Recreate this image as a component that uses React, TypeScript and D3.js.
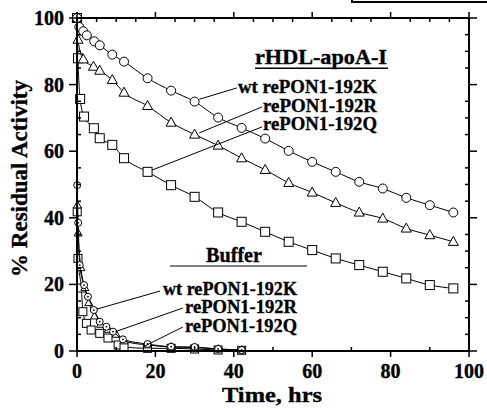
import React from "react";
import * as d3 from "d3";

// ---------- DATA ----------
// rHDL-apoA-I
const rhdlK_t = [0, 0.6, 1.6, 2.5, 4.4, 5.8, 9, 12, 18, 24, 30, 36, 42, 48, 54, 60, 66, 72, 78, 84, 90, 96];
const rhdlK_v = [100, 97.3, 96.0, 94.8, 93.0, 91.8, 89.0, 86.9, 81.9, 78.2, 74.9, 70.1, 67.0, 63.8, 60.1, 56.8, 53.8, 50.8, 48.8, 46.0, 43.8, 41.6];
const rhdlR_t = [0, 0.25, 1.6, 4.2, 5.8, 9, 12, 18, 24, 30, 36, 42, 48, 54, 60, 66, 72, 78, 84, 90, 96];
const rhdlR_v = [100, 93.5, 87.6, 85.4, 84.2, 81.4, 77.6, 73.6, 68.6, 65.0, 61.7, 57.9, 54.4, 50.5, 47.6, 44.5, 41.6, 39.8, 36.8, 34.8, 32.8];
const rhdlQ_t = [0, 0.25, 0.8, 1.8, 4.3, 5.8, 9, 12, 18, 24, 30, 36, 42, 48, 54, 60, 66, 72, 78, 84, 90, 96];
const rhdlQ_v = [100, 87.9, 75.7, 70.4, 66.9, 63.9, 61.9, 57.9, 53.8, 49.8, 46.3, 41.6, 38.8, 35.8, 32.8, 30.3, 27.8, 25.8, 23.8, 21.8, 19.8, 18.8];
// Buffer
const bufK_t = [0, 0.05, 0.3, 0.7, 1.8, 2.8, 4.3, 5.8, 7.5, 9.2, 11.7, 18, 24, 30, 36, 42];
const bufK_v = [100, 49.8, 38.5, 25.8, 19.8, 16.3, 12.3, 8.8, 7.3, 5.8, 3.5, 2.1, 1.3, 1.2, 0.6, 0.3];
const bufR_t = [0, 0.1, 0.3, 1, 2, 3, 4.5, 6, 8, 10, 12, 18, 24, 30, 36, 42];
const bufR_v = [100, 43.8, 35.4, 25, 19, 14.5, 10.5, 8, 6.5, 5, 3, 1.8, 1.2, 1, 0.6, 0.3];
const bufQ_t = [0, 0.05, 0.25, 1.1, 1.5, 2.4, 3.6, 5.8, 7.9, 10.5, 12, 18, 24, 30, 36, 42];
const bufQ_v = [100, 41.8, 27.8, 18.9, 11.8, 8.3, 6.3, 5.3, 3.9, 1.8, 1.2, 0.8, 0.8, 0.6, 0.3, 0.2];

const xTicks = [0, 20, 40, 60, 80, 100];
const yTicks = [0, 20, 40, 60, 80, 100];
const xLabel = "Time, hrs";
const yLabel = "% Residual Activity";
const rhdlTitle = "rHDL-apoA-I";
const bufTitle = "Buffer";
const seriesNames = ["wt rePON1-192K", "rePON1-192R", "rePON1-192Q"];

// ---------- LAYOUT ----------
const W = 487, H = 408;
const x = d3.scaleLinear().domain([0, 100]).range([77, 469]);
const y = d3.scaleLinear().domain([0, 100]).range([351, 18]);
const FONT = "'Liberation Serif', 'Times New Roman', serif";

type Pt = [number, number];
const zip = (t: number[], v: number[]): Pt[] => t.map((d, i) => [d, v[i]]);

const line = d3
  .line<Pt>()
  .x((d) => x(d[0]))
  .y((d) => y(d[1]))
  .curve(d3.curveMonotoneX);

function Marker({ kind, cx, cy, s, dot }: { kind: string; cx: number; cy: number; s: number; dot?: boolean }) {
  const common = { fill: "#fff", stroke: "#000", strokeWidth: 1 };
  if (kind === "circle")
    return (
      <g>
        <circle cx={cx} cy={cy} r={s / 2} {...common} />
        {dot && <circle cx={cx} cy={cy} r={0.9} fill="#000" />}
      </g>
    );
  if (kind === "square")
    return <rect x={cx - s / 2} y={cy - s / 2} width={s} height={s} {...common} />;
  const h = s * 0.9;
  return (
    <path
      d={`M${cx},${cy - h * 0.6} L${cx + s / 2},${cy + h * 0.4} L${cx - s / 2},${cy + h * 0.4} Z`}
      {...common}
    />
  );
}

function Series({ pts, kind, s, dot }: { pts: Pt[]; kind: string; s: number; dot?: boolean }) {
  return (
    <g>
      <path d={line(pts) || ""} fill="none" stroke="#000" strokeWidth={1} />
      {pts.map((p, i) => (
        <Marker key={i} kind={kind} cx={x(p[0])} cy={y(p[1])} s={s} dot={dot} />
      ))}
    </g>
  );
}

// leader line in data units
function Leader({ from, to }: { from: Pt; to: Pt }) {
  return (
    <line x1={x(from[0])} y1={y(from[1])} x2={x(to[0])} y2={y(to[1])} stroke="#000" strokeWidth={1} />
  );
}

export default function App() {
  const rK = zip(rhdlK_t, rhdlK_v);
  const rR = zip(rhdlR_t, rhdlR_v);
  const rQ = zip(rhdlQ_t, rhdlQ_v);
  const bK = zip(bufK_t, bufK_v);
  const bR = zip(bufR_t, bufR_v);
  const bQ = zip(bufQ_t, bufQ_v);

  const x0 = x(0), x1 = x(100), y0 = y(0), y1 = y(100);
  const minor5 = d3.range(5, 100, 5).filter((v) => v % 20 !== 0);
  const minor10 = d3.range(10, 100, 20);

  const textStyle = {
    fontFamily: FONT,
    fontWeight: 700,
    fill: "#000",
    stroke: "#000",
    strokeWidth: 0.35,
  } as const;

  return (
    <svg width={W} height={H} style={{ position: "absolute", left: 0, top: 0, background: "#fff" }}>
      <rect x={0} y={0} width={W} height={H} fill="#fff" />
      {/* cropped box at top right */}
      <rect x={352} y={-10} width={160} height={12} fill="none" stroke="#000" strokeWidth={2} />

      {/* series */}
      <Series pts={bQ} kind="square" s={8} />
      <Series pts={bR} kind="triangle" s={8} />
      <Series pts={bK} kind="circle" s={7} dot />
      <Series pts={rQ} kind="square" s={9} />
      <Series pts={rR} kind="triangle" s={10} />
      <Series pts={rK} kind="circle" s={9} />

      {/* frame */}
      <g stroke="#000" strokeWidth={2} fill="none">
        <line x1={x0} y1={y0} x2={x1} y2={y0} />
        <line x1={x0} y1={y1} x2={x1} y2={y1} />
        <line x1={x0} y1={y0} x2={x0} y2={y1} />
        <line x1={x1} y1={y0} x2={x1} y2={y1} />
      </g>
      <g stroke="#000" strokeWidth={1.5}>
        {xTicks.map((t) => (
          <g key={"xt" + t}>
            <line x1={x(t)} x2={x(t)} y1={y0} y2={y0 + 6} />
            <line x1={x(t)} x2={x(t)} y1={y1} y2={y1 - 6} />
          </g>
        ))}
        {minor10.map((t) => (
          <line key={"xm" + t} x1={x(t)} x2={x(t)} y1={y0} y2={y0 - 4} />
        ))}
        {minor5.map((t) => (
          <line key={"xtm" + t} x1={x(t)} x2={x(t)} y1={y1} y2={y1 + 4} />
        ))}
        {yTicks.map((v) => (
          <g key={"yt" + v}>
            <line x1={x0} x2={x0 - 8} y1={y(v)} y2={y(v)} />
            <line x1={x1} x2={x1 + 8} y1={y(v)} y2={y(v)} />
          </g>
        ))}
        {minor5.map((v) => (
          <g key={"ym" + v}>
            <line x1={x0} x2={x0 + 4} y1={y(v)} y2={y(v)} />
            <line x1={x1} x2={x1 - 4} y1={y(v)} y2={y(v)} />
          </g>
        ))}
      </g>

      {/* tick labels */}
      {xTicks.map((t) => (
        <text key={"xl" + t} x={x(t)} y={378} textAnchor="middle" fontSize={20} {...textStyle}>
          {t}
        </text>
      ))}
      {yTicks.map((v) => (
        <text key={"yl" + v} x={64} y={y(v) + 7} textAnchor="end" fontSize={20} {...textStyle}>
          {v}
        </text>
      ))}

      {/* axis titles */}
      <text x={272} y={402} textAnchor="middle" fontSize={22} {...textStyle} textLength={100} lengthAdjust="spacingAndGlyphs">
        {xLabel}
      </text>
      <text
        transform="translate(27,178.5) rotate(-90)"
        textAnchor="middle"
        fontSize={23}
        {...textStyle}
        textLength={197}
        lengthAdjust="spacingAndGlyphs"
      >
        {yLabel}
      </text>

      {/* rHDL annotations */}
      <text x={255} y={63.5} fontSize={20} {...textStyle} textLength={132} lengthAdjust="spacingAndGlyphs">
        {rhdlTitle}
      </text>
      <line x1={255} x2={388} y1={68.3} y2={68.3} stroke="#000" strokeWidth={1.5} />
      <text x={238} y={93} fontSize={18.5} {...textStyle} textLength={139} lengthAdjust="spacingAndGlyphs">
        {seriesNames[0]}
      </text>
      <text x={263} y={111.5} fontSize={18.5} {...textStyle} textLength={114} lengthAdjust="spacingAndGlyphs">
        {seriesNames[1]}
      </text>
      <text x={263} y={130} fontSize={18.5} {...textStyle} textLength={114} lengthAdjust="spacingAndGlyphs">
        {seriesNames[2]}
      </text>
      <Leader from={[31.2, 75.6]} to={[40.8, 79.0]} />
      <Leader from={[31.2, 65.5]} to={[47.2, 73.3]} />
      <Leader from={[19.1, 54.3]} to={[47.2, 67.3]} />

      {/* Buffer annotations */}
      <text x={206} y={262} fontSize={20} {...textStyle} textLength={56} lengthAdjust="spacingAndGlyphs">
        {bufTitle}
      </text>
      <line x1={170} x2={307} y1={266} y2={266} stroke="#000" strokeWidth={1} />
      <text x={163} y={294.5} fontSize={18.5} {...textStyle} textLength={134} lengthAdjust="spacingAndGlyphs">
        {seriesNames[0]}
      </text>
      <text x={185} y={313} fontSize={18.5} {...textStyle} textLength={112} lengthAdjust="spacingAndGlyphs">
        {seriesNames[1]}
      </text>
      <text x={185} y={331.5} fontSize={18.5} {...textStyle} textLength={112} lengthAdjust="spacingAndGlyphs">
        {seriesNames[2]}
      </text>
      <Leader from={[5.1, 12.6]} to={[21.2, 18.0]} />
      <Leader from={[9.8, 5.8]} to={[27.0, 12.9]} />
      <Leader from={[16.8, 1.2]} to={[27.0, 7.2]} />
    </svg>
  );
}
